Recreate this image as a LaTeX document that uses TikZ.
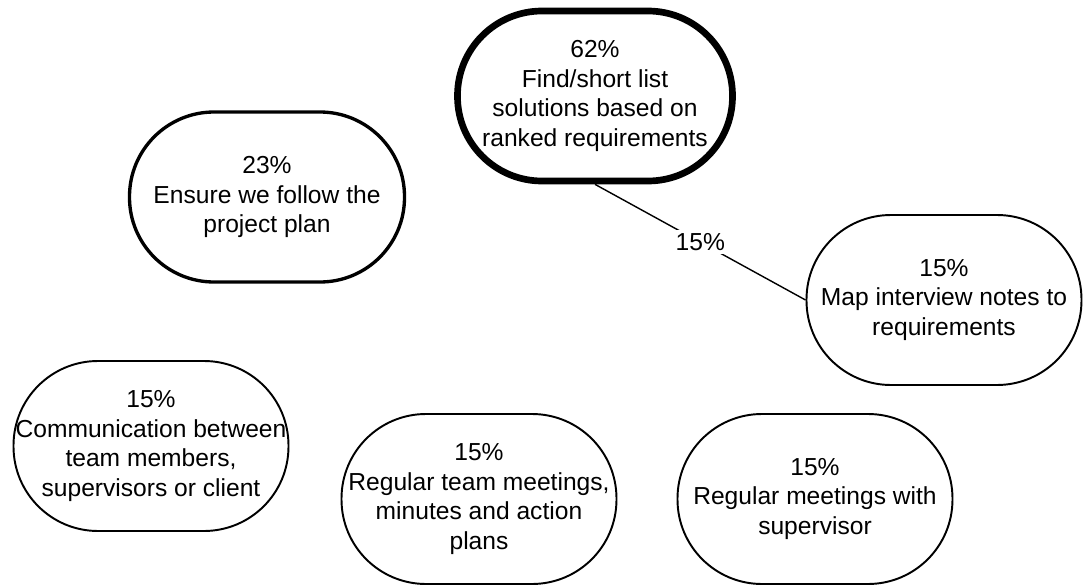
\documentclass[tikz,border=0pt]{standalone}
\usepackage{fontspec}
\setmainfont{Liberation Sans}
\usetikzlibrary{positioning}

\begin{document}
\begin{tikzpicture}[
  goal/.style={draw, rounded corners=1.69cm, minimum width=5.5cm, minimum height=3.4cm,
               inner sep=0pt, align=center, font=\fontsize{14}{17}\selectfont, line width=1.1pt},
  conn/.style={line width=0.8pt}
]
  \useasboundingbox (0,0) rectangle (21.7,-11.72);

  \node[goal, line width=3.8pt] (find) at (11.9, -1.92) {
    62\%\\
    Find/short list\\
    solutions based on\\
    ranked requirements
  };

  \node[goal, line width=1.9pt] (plan) at (5.34, -3.94) {
    23\%\\
    Ensure we follow the\\
    project plan
  };

  \node[goal] (map) at (18.88, -6.0) {
    15\%\\
    Map interview notes to\\
    requirements
  };

  \node[goal] (comm) at (3.02, -8.92) {
    15\%\\
    Communication between\\
    team members,\\
    supervisors or client
  };

  \node[goal] (team) at (9.58, -9.98) {
    15\%\\
    Regular team meetings,\\
    minutes and action\\
    plans
  };

  \node[goal] (super) at (16.3, -9.98) {
    15\%\\
    Regular meetings with\\
    supervisor
  };

  \draw[conn] (find.south) -- (map.west)
    node[midway, fill=white, inner sep=2pt, font=\fontsize{14}{17}\selectfont] (share) {15\%};
\end{tikzpicture}
\end{document}
